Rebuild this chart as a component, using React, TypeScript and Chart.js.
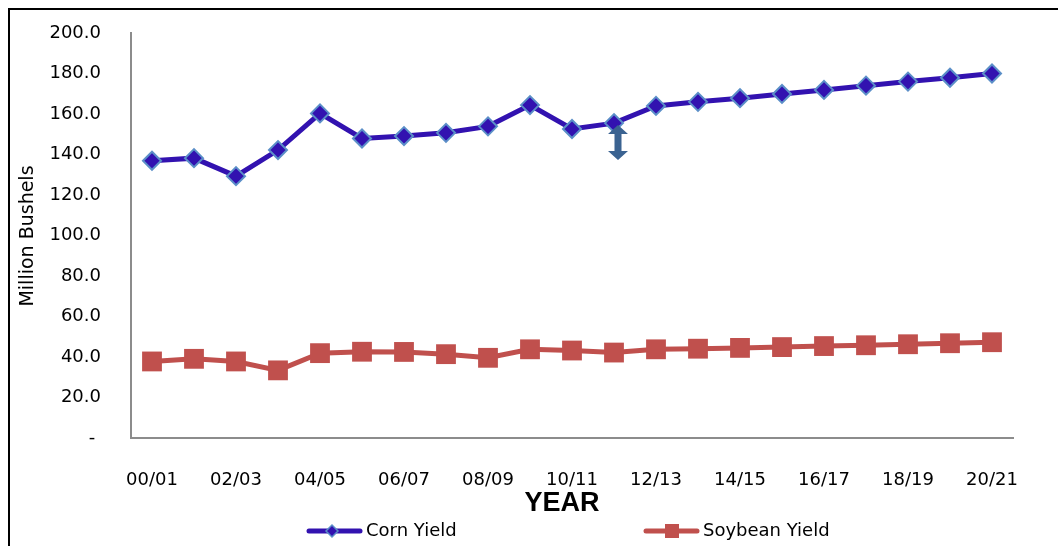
import React, { useEffect, useRef } from "react";
import { Chart, registerables } from "chart.js";

Chart.register(...registerables);

const years = [
  "00/01", "01/02", "02/03", "03/04", "04/05", "05/06", "06/07", "07/08", "08/09", "09/10",
  "10/11", "11/12", "12/13", "13/14", "14/15", "15/16", "16/17", "17/18", "18/19", "19/20", "20/21",
];
const cornYield = [
  136.9, 138.2, 129.3, 142.2, 160.3, 147.9, 149.1, 150.7, 153.9, 164.4,
  152.6, 155.5, 164.0, 166.0, 167.8, 169.9, 171.9, 174.0, 176.0, 177.9, 180.0,
];
const soybeanYield = [
  37.8, 39.1, 37.8, 33.4, 41.9, 42.6, 42.5, 41.4, 39.6, 43.8,
  43.2, 42.2, 43.8, 44.1, 44.5, 44.9, 45.4, 45.8, 46.3, 46.8, 47.3,
];
const yTicks = [0, 20, 40, 60, 80, 100, 120, 140, 160, 180, 200];
const seriesNames = ["Corn Yield", "Soybean Yield"];
const arrowIndex = 11;
const arrowFrom = 137.3;
const arrowTo = 154.6;

const FONT = "'DejaVu Sans', sans-serif";

const overlayPlugin = {
  id: "overlay",
  beforeDraw(chart: any) {
    const ctx = chart.ctx as CanvasRenderingContext2D;
    ctx.save();
    ctx.fillStyle = "#fff";
    ctx.fillRect(0, 0, chart.width, chart.height);
    ctx.fillStyle = "#000";
    ctx.fillRect(8, 8, chart.width - 8, 2);
    ctx.fillRect(8, 8, 2, chart.height - 8);
    ctx.restore();
  },
  afterDraw(chart: any) {
    const ctx = chart.ctx as CanvasRenderingContext2D;
    const xs = chart.scales.x;
    const ys = chart.scales.y;
    ctx.save();

    // double-headed arrow
    const ax = xs.getPixelForValue(arrowIndex) + 4;
    const top = ys.getPixelForValue(arrowTo);
    const bot = ys.getPixelForValue(arrowFrom);
    const hw = 10, hh = 9, sw = 3.5;
    ctx.fillStyle = "#3B6391";
    ctx.beginPath();
    ctx.moveTo(ax, top);
    ctx.lineTo(ax + hw, top + hh);
    ctx.lineTo(ax + sw, top + hh);
    ctx.lineTo(ax + sw, bot - hh);
    ctx.lineTo(ax + hw, bot - hh);
    ctx.lineTo(ax, bot);
    ctx.lineTo(ax - hw, bot - hh);
    ctx.lineTo(ax - sw, bot - hh);
    ctx.lineTo(ax - sw, top + hh);
    ctx.lineTo(ax - hw, top + hh);
    ctx.closePath();
    ctx.fill();

    // y title
    ctx.fillStyle = "#000";
    ctx.font = `19px ${FONT}`;
    ctx.textAlign = "center";
    ctx.textBaseline = "middle";
    ctx.save();
    ctx.translate(28, 236);
    ctx.rotate(-Math.PI / 2);
    ctx.fillText("Million Bushels", 0, 0);
    ctx.restore();

    // x title
    ctx.font = `bold 27px 'Liberation Sans', Arial, sans-serif`;
    ctx.fillText("YEAR", 562, 504);

    // legend
    const ly = 531;
    ctx.lineCap = "round";
    ctx.lineWidth = 5;
    ctx.strokeStyle = "#3212B0";
    ctx.beginPath();
    ctx.moveTo(309, ly);
    ctx.lineTo(360, ly);
    ctx.stroke();
    ctx.fillStyle = "#3212B0";
    ctx.strokeStyle = "#5B8FC8";
    ctx.lineWidth = 1.5;
    ctx.beginPath();
    ctx.moveTo(332 - 6, ly);
    ctx.lineTo(332, ly - 6);
    ctx.lineTo(332 + 6, ly);
    ctx.lineTo(332, ly + 6);
    ctx.closePath();
    ctx.fill();
    ctx.stroke();

    ctx.lineWidth = 5;
    ctx.strokeStyle = "#C0504D";
    ctx.beginPath();
    ctx.moveTo(646, ly);
    ctx.lineTo(697, ly);
    ctx.stroke();
    ctx.fillStyle = "#C0504D";
    ctx.fillRect(672 - 7, ly - 7, 14, 14);

    ctx.fillStyle = "#000";
    ctx.font = `18px ${FONT}`;
    ctx.textAlign = "left";
    ctx.fillText(seriesNames[0], 366, ly);
    ctx.fillText(seriesNames[1], 703, ly);

    ctx.restore();
  },
};

export default function App() {
  const ref = useRef<HTMLCanvasElement>(null);
  useEffect(() => {
    if (!ref.current) return;
    const chart = new Chart(ref.current, {
      type: "line",
      data: {
        labels: years,
        datasets: [
          {
            label: seriesNames[0],
            data: cornYield,
            borderColor: "#3212B0",
            borderWidth: 5,
            backgroundColor: "#3212B0",
            pointStyle: "rectRot",
            pointRadius: 9,
            pointBorderWidth: 2,
            pointBackgroundColor: "#3212B0",
            pointBorderColor: "#5B8FC8",
            tension: 0,
            clip: false,
          },
          {
            label: seriesNames[1],
            data: soybeanYield,
            borderColor: "#C0504D",
            borderWidth: 5,
            backgroundColor: "#C0504D",
            pointStyle: "rect",
            pointRadius: 14,
            pointBorderWidth: 0,
            pointBackgroundColor: "#C0504D",
            pointBorderColor: "#C0504D",
            tension: 0,
            clip: false,
          },
        ],
      },
      options: {
        animation: false,
        responsive: false,
        maintainAspectRatio: false,
        layout: { autoPadding: false, padding: { left: 0, right: 45, top: 33, bottom: 0 } },
        plugins: {
          legend: { display: false },
          tooltip: { enabled: false },
          title: { display: false },
        },
        scales: {
          x: {
            type: "category",
            offset: true,
            grid: { display: false, drawTicks: false },
            border: { display: true, color: "#8C8C8C", width: 2 },
            ticks: {
              autoSkip: false,
              maxRotation: 0,
              padding: 32,
              color: "#000",
              font: { family: FONT, size: 18 },
              callback: (_v: any, i: number) => (i % 2 === 0 ? years[i] : ""),
            },
            afterFit: (s: any) => {
              s.height = 108;
              s.paddingLeft = 0;
              s.paddingRight = 0;
            },
          },
          y: {
            min: 0,
            max: 200,
            afterBuildTicks: (s: any) => {
              s.ticks = yTicks.map((v) => ({ value: v }));
            },
            grid: { display: false, drawTicks: false },
            border: { display: true, color: "#8C8C8C", width: 2 },
            ticks: {
              padding: 30,
              color: "#000",
              font: { family: FONT, size: 18 },
              callback: (v: any) => (Number(v) === 0 ? "- " : Number(v).toFixed(1)),
            },
            afterFit: (s: any) => {
              s.width = 131;
              s.paddingTop = 0;
              s.paddingBottom = 0;
            },
          },
        },
      },
      plugins: [overlayPlugin],
    });
    return () => chart.destroy();
  }, []);

  return (
    <div
      style={{
        position: "fixed",
        top: 0,
        left: 0,
        width: 1058,
        height: 546,
        overflow: "hidden",
        background: "#fff",
      }}
    >
      <canvas ref={ref} width={1058} height={546} style={{ display: "block" }} />
    </div>
  );
}
